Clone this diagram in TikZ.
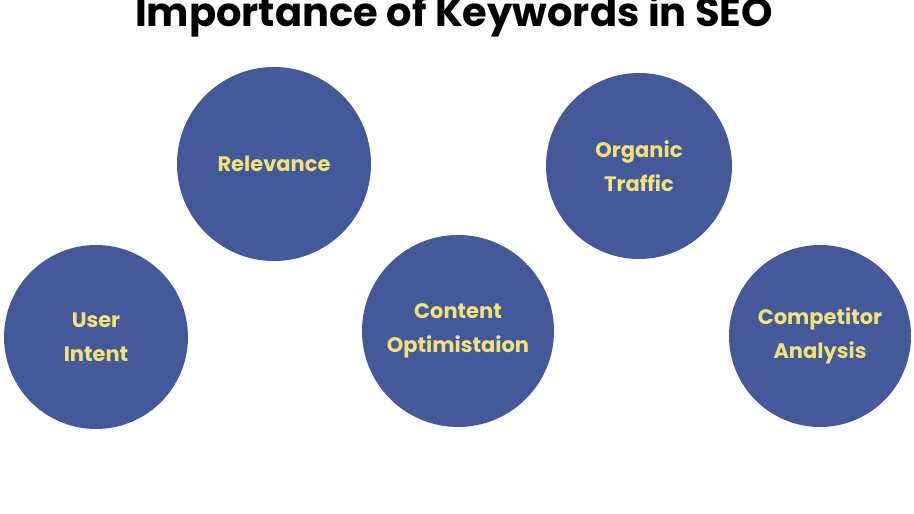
\documentclass[tikz,border=0pt]{standalone}
\usepackage{fontspec}
\setmainfont{Poppins}
\definecolor{circ}{HTML}{43599A}
\definecolor{lab}{HTML}{F3E27A}
\begin{document}
\begin{tikzpicture}[x=1pt,y=-1pt,
  bub/.style={circle,fill=circ,inner sep=0pt,align=center,text=lab,font=\fontsize{21}{34}\selectfont\bfseries}]
\useasboundingbox (0,0) rectangle (914,514);
\node (title) at (454,16) {\fontsize{40}{44}\selectfont\bfseries Importance of Keywords in SEO};
\node[bub,minimum size=184pt] (ui) at (96,337) {User\\Intent};
\node[bub,minimum size=194pt] (rel) at (274,164) {Relevance};
\node[bub,minimum size=192pt] (co) at (458,331) {Content\\Optimistaion};
\node[bub,minimum size=186pt] (ot) at (639,166) {Organic\\Traffic};
\node[bub,minimum size=182pt] (ca) at (820,336) {Competitor\\Analysis};
\end{tikzpicture}
\end{document}
